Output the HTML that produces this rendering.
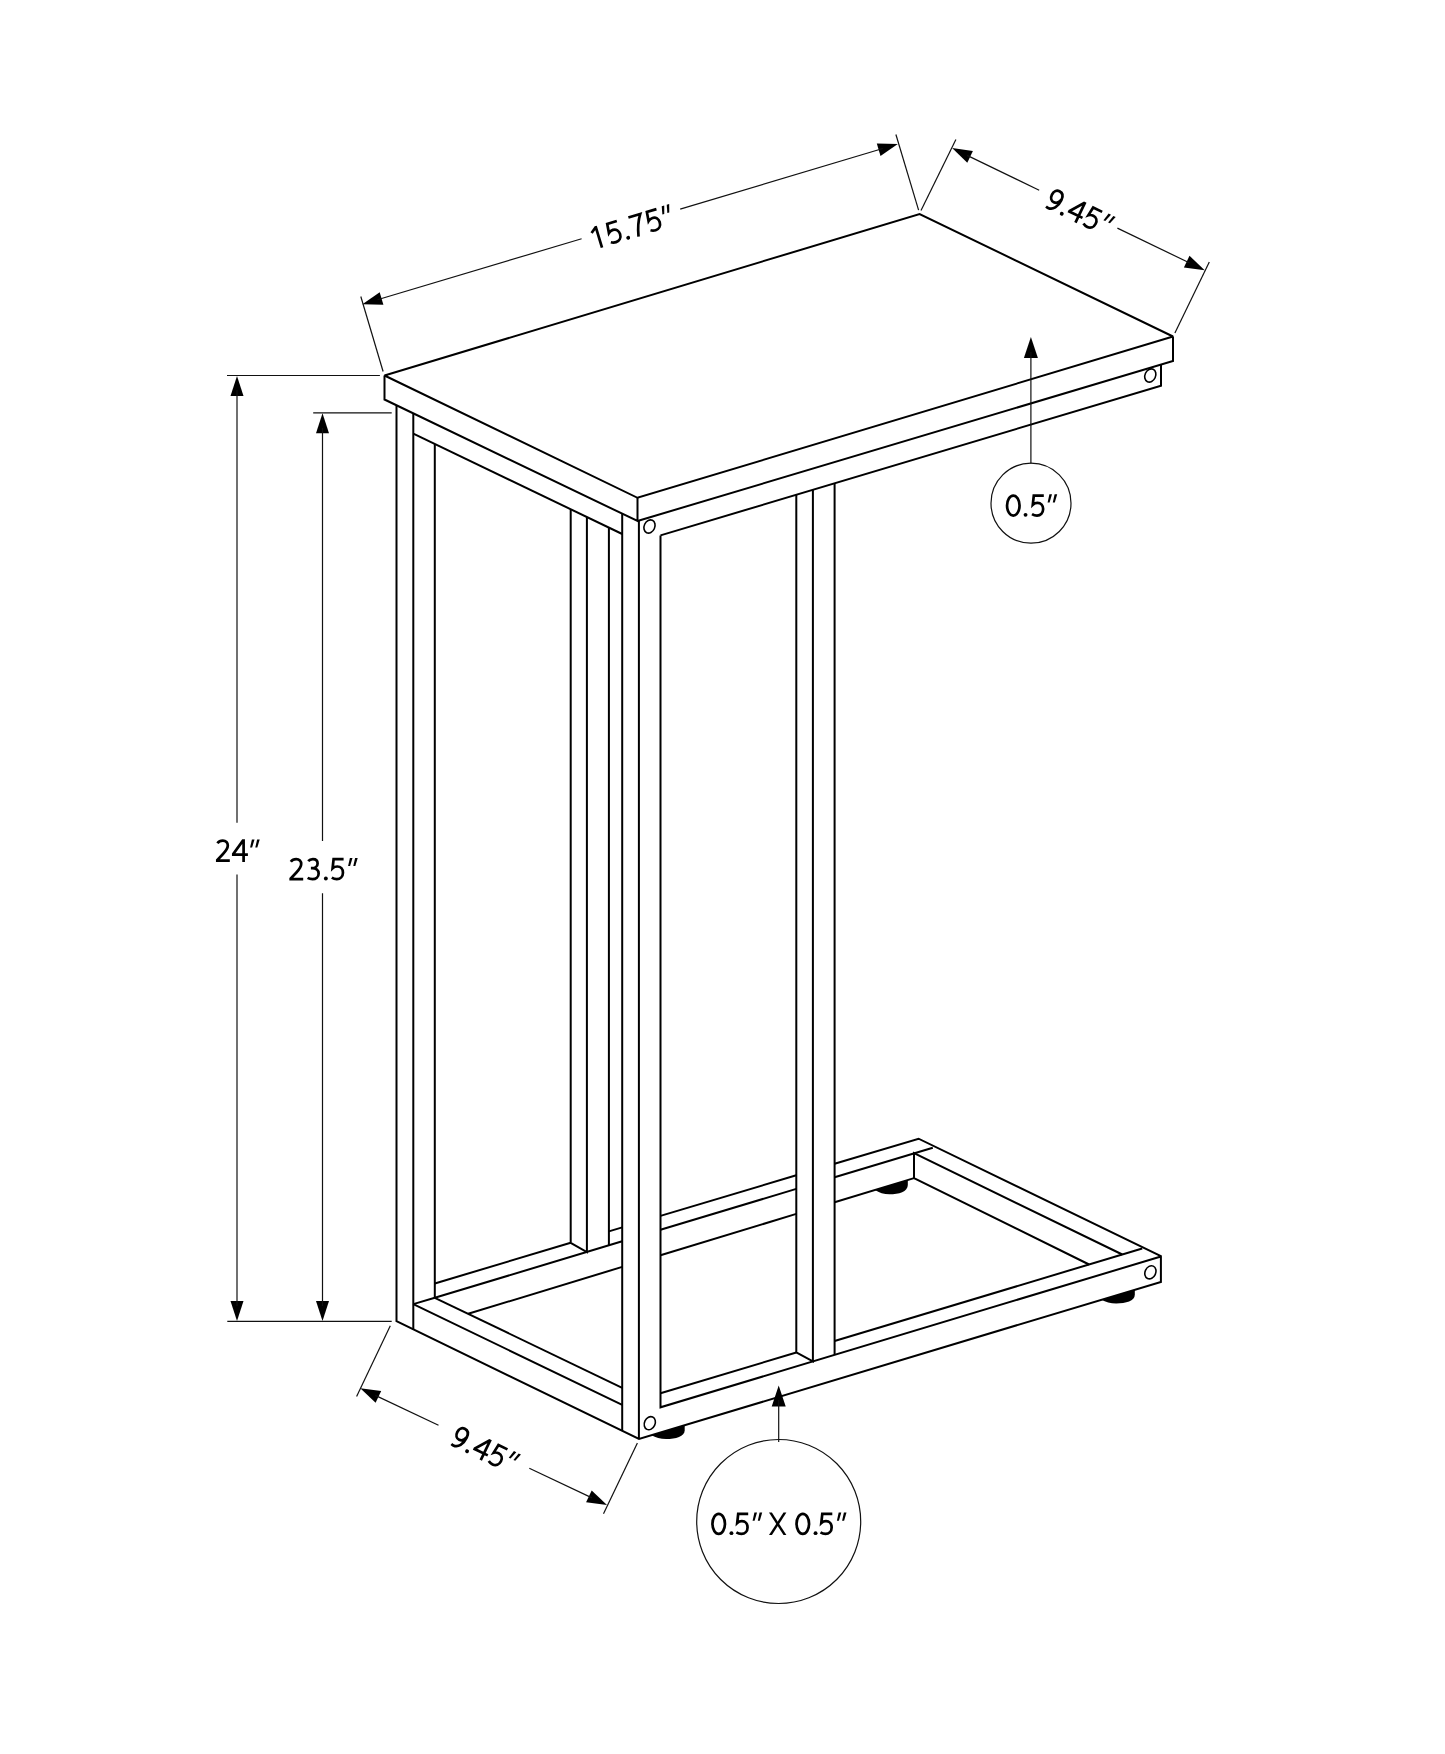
<!DOCTYPE html>
<html><head><meta charset="utf-8"><style>
html,body{margin:0;padding:0;background:#fff;}
svg{display:block;}
.t{stroke:#000;stroke-width:2.0;fill:none;stroke-linejoin:miter;stroke-linecap:butt;stroke-miterlimit:2.2;}
.d{stroke:#111;stroke-width:1.2;fill:none;}
.h{stroke:#000;stroke-width:1.6;fill:none;}
.a{fill:#000;stroke:none;}
.f{fill:#000;stroke:none;}
.gs{fill:none;stroke:#000;stroke-width:2.7;stroke-linecap:butt;stroke-linejoin:miter;stroke-miterlimit:4;}
.gf{fill:#000;stroke:none;}
body{font-family:"Liberation Sans",sans-serif;}
</style></head><body>
<svg width="1445" height="1754" viewBox="0 0 1445 1754">
<rect width="1445" height="1754" fill="#fff"/>
<polygon class="t" points="384.5,375.5 919.6,214.0 1173.0,336.5 637.5,497.8" stroke-miterlimit="4"/>
<polyline class="t" points="384.5,375.5 384.5,399.5 637.5,521.0 637.5,497.8"/>
<polyline class="t" points="637.5,521.0 1173.0,361.0 1173.0,336.5"/>
<line class="t" x1="413.3" y1="433.6" x2="622.2" y2="534.0"/>
<polyline class="t" points="660.5,535.4 1161.0,385.7 1161.0,364.6"/>
<polyline class="t" points="396.5,405.3 396.5,1321.2 639.0,1439.0 1160.9,1281.9 1160.9,1256.1 918.6,1138.7 834.6,1163.8"/>
<line class="t" x1="413.3" y1="413.3" x2="413.3" y2="1329.4"/>
<line class="t" x1="434.8" y1="443.9" x2="434.8" y2="1297.8"/>
<polyline class="t" points="570.7,509.2 570.7,1242.8 586.9,1252.0 586.9,517.0"/>
<line class="t" x1="608.9" y1="527.6" x2="608.9" y2="1245.3"/>
<line class="t" x1="622.2" y1="513.7" x2="622.2" y2="1430.8"/>
<line class="t" x1="638.9" y1="521.0" x2="638.9" y2="1439.0"/>
<polyline class="t" points="660.5,535.4 660.5,1407.3 1160.9,1256.5"/>
<polyline class="t" points="796.3,494.8 796.3,1352.5 812.9,1361.4 812.9,489.8"/>
<line class="t" x1="834.6" y1="483.3" x2="834.6" y2="1354.8"/>
<polyline class="t" points="622.2,1404.9 413.3,1304.1 434.8,1297.8 622.2,1241.3" stroke-miterlimit="2"/>
<line class="t" x1="434.8" y1="1297.8" x2="622.2" y2="1387.9"/>
<line class="t" x1="434.8" y1="1283.5" x2="570.7" y2="1242.8"/>
<line class="t" x1="608.9" y1="1231.4" x2="622.2" y2="1227.4"/>
<line class="t" x1="660.5" y1="1215.9" x2="796.3" y2="1175.3"/>
<line class="t" x1="660.5" y1="1229.8" x2="796.3" y2="1188.9"/>
<line class="t" x1="834.6" y1="1177.3" x2="932.8" y2="1147.7"/>
<line class="t" x1="468.2" y1="1313.8" x2="622.2" y2="1266.9"/>
<line class="t" x1="660.5" y1="1255.3" x2="796.3" y2="1213.9"/>
<line class="t" x1="834.6" y1="1202.3" x2="914.0" y2="1178.1"/>
<polyline class="t" points="1122.3,1254.5 914.0,1153.2 914.0,1178.1 1089.1,1264.5" stroke-miterlimit="2"/>
<line class="t" x1="660.5" y1="1393.3" x2="796.3" y2="1352.5"/>
<line class="t" x1="834.6" y1="1341.0" x2="1142.2" y2="1248.5"/>
<ellipse class="h" cx="649.5" cy="526.5" rx="5.3" ry="6.8" transform="rotate(25 649.5 526.5)"/>
<ellipse class="h" cx="1150.3" cy="375.5" rx="5.3" ry="6.8" transform="rotate(25 1150.3 375.5)"/>
<ellipse class="h" cx="649.8" cy="1423.2" rx="5.3" ry="6.8" transform="rotate(25 649.8 1423.2)"/>
<ellipse class="h" cx="1150.4" cy="1272.3" rx="5.3" ry="6.8" transform="rotate(25 1150.4 1272.3)"/>
<path class="f" d="M875.0,1190.0 L907.8,1180.0 L907.8,1185.0 C907.8,1191.8 898.8,1194.3 889.4,1194.3 C884.0,1194.3 879.0,1192.8 875.0,1190.0 Z"/>
<path class="f" d="M1101.5,1299.8 L1134.8,1289.8 L1134.8,1294.8 C1134.8,1301.0 1125.8,1303.5 1116.2,1303.5 C1110.5,1303.5 1105.5,1302.0 1101.5,1299.8 Z"/>
<path class="f" d="M651.5,1435.2 L684.7,1425.2 L684.7,1430.2 C684.7,1436.5 675.7,1439.0 666.1,1439.0 C660.5,1439.0 655.5,1437.5 651.5,1435.2 Z"/>
<line class="d" x1="360.8" y1="296.5" x2="383.1" y2="371.5"/>
<line class="d" x1="895.9" y1="134.5" x2="918.6" y2="210.1"/>
<polygon class="a" points="362.4,304.3 379.7,292.3 383.4,304.8"/>
<polygon class="a" points="897.8,144.0 880.5,156.0 876.8,143.5"/>
<line class="d" x1="377.4" y1="299.8" x2="581.6" y2="238.7"/>
<line class="d" x1="680.2" y1="209.1" x2="882.8" y2="148.5"/>
<line class="d" x1="955.9" y1="139.4" x2="921.0" y2="210.6"/>
<line class="d" x1="1209.3" y1="262.1" x2="1174.9" y2="332.9"/>
<polygon class="a" points="952.1,148.1 972.9,151.0 967.3,162.7"/>
<polygon class="a" points="1204.7,270.3 1183.9,267.4 1189.5,255.7"/>
<line class="d" x1="967.1" y1="155.4" x2="1039.2" y2="190.2"/>
<line class="d" x1="1117.4" y1="228.1" x2="1189.7" y2="263.0"/>
<line class="d" x1="227.0" y1="375.5" x2="379.9" y2="375.5"/>
<line class="d" x1="313.2" y1="412.9" x2="391.7" y2="412.9"/>
<line class="d" x1="227.3" y1="1321.3" x2="391.7" y2="1321.3"/>
<polygon class="a" points="237.0,375.9 243.5,395.9 230.5,395.9"/>
<polygon class="a" points="237.0,1320.9 230.5,1300.9 243.5,1300.9"/>
<line class="d" x1="237.0" y1="390.0" x2="237.0" y2="822.7"/>
<line class="d" x1="237.0" y1="874.4" x2="237.0" y2="1306.0"/>
<polygon class="a" points="322.5,413.3 329.0,433.3 316.0,433.3"/>
<polygon class="a" points="322.5,1320.9 316.0,1300.9 329.0,1300.9"/>
<line class="d" x1="322.5" y1="428.0" x2="322.5" y2="841.1"/>
<line class="d" x1="322.5" y1="893.2" x2="322.5" y2="1306.0"/>
<line class="d" x1="390.3" y1="1325.7" x2="356.6" y2="1396.4"/>
<line class="d" x1="637.4" y1="1443.1" x2="603.5" y2="1513.8"/>
<polygon class="a" points="360.3,1388.3 381.2,1391.0 375.6,1402.7"/>
<polygon class="a" points="607.0,1505.0 586.1,1502.3 591.7,1490.6"/>
<line class="d" x1="375.3" y1="1395.4" x2="438.5" y2="1425.3"/>
<line class="d" x1="529.3" y1="1468.2" x2="592.0" y2="1497.9"/>
<polygon class="a" points="1030.9,337.1 1037.9,358.1 1023.9,358.1"/>
<line class="d" x1="1030.9" y1="352.0" x2="1030.9" y2="463.4"/>
<circle class="d" cx="1031.0" cy="503.2" r="40"/>
<polygon class="a" points="778.7,1385.5 785.7,1406.5 771.7,1406.5"/>
<line class="d" x1="778.7" y1="1400.0" x2="778.7" y2="1442.0"/>
<circle class="d" cx="778.7" cy="1521.5" r="82"/>
<g class="txt" role="img" aria-label="24″"><title>24″</title><g transform="translate(215.70,839.40)"><path class="gs" d="M1.7,3.9 C3.0,2.1 4.9,1.25 7.1,1.25 C10.2,1.25 12.1,3.3 12.1,6.2 C12.1,9.3 10.2,11.6 7.3,14.6 L1.6,20.6 L1.6,21.25 L14.1,21.25"/></g><g transform="translate(232.10,839.40)"><path class="gs" d="M11.5,22.5 L11.5,1.25 L10.8,1.25 L1.2,14.6 L1.2,15.2 L15.8,15.2"/></g><g transform="translate(250.10,839.40)"><polygon class="gf" points="1.8,0 4.4,0 2.0,8.2 0,8.2"/><polygon class="gf" points="7.0,0 9.6,0 7.2,8.2 5.2,8.2"/></g></g>
<g class="txt" role="img" aria-label="23.5″"><title>23.5″</title><g transform="translate(289.10,857.90)"><path class="gs" d="M1.7,3.9 C3.0,2.1 4.9,1.25 7.1,1.25 C10.2,1.25 12.1,3.3 12.1,6.2 C12.1,9.3 10.2,11.6 7.3,14.6 L1.6,20.6 L1.6,21.25 L14.1,21.25"/></g><g transform="translate(306.70,857.90)"><path class="gs" d="M1.5,3.3 C2.7,1.9 4.4,1.25 6.2,1.25 C9.1,1.25 10.9,3.0 10.9,5.5 C10.9,8.4 8.6,10.2 5.4,10.2 L4.2,10.2 L5.4,10.2 C9.3,10.2 11.95,12.4 11.95,15.6 C11.95,19.1 9.1,21.25 5.8,21.25 C3.8,21.25 2.1,20.7 0.9,20.0"/></g><g transform="translate(323.80,857.90)"><circle cx="2.05" cy="20.55" r="1.95" class="gf"/></g><g transform="translate(331.00,857.90)"><path class="gs" d="M12.6,1.25 L2.6,1.25 L1.6,10.4 C2.9,9.2 4.6,8.6 6.3,8.6 C9.7,8.6 11.95,11.2 11.95,14.8 C11.95,18.6 9.3,21.25 5.8,21.25 C3.9,21.25 2.1,20.6 0.8,19.8"/></g><g transform="translate(348.10,857.90)"><polygon class="gf" points="1.8,0 4.4,0 2.0,8.2 0,8.2"/><polygon class="gf" points="7.0,0 9.6,0 7.2,8.2 5.2,8.2"/></g></g>
<g class="txt" role="img" aria-label="0.5″"><title>0.5″</title><g transform="translate(1005.80,494.30)"><ellipse cx="7.5" cy="11.25" rx="6.25" ry="10.0" class="gs"/></g><g transform="translate(1023.50,494.30)"><circle cx="2.05" cy="20.55" r="1.95" class="gf"/></g><g transform="translate(1031.20,494.30)"><path class="gs" d="M12.6,1.25 L2.6,1.25 L1.6,10.4 C2.9,9.2 4.6,8.6 6.3,8.6 C9.7,8.6 11.95,11.2 11.95,14.8 C11.95,18.6 9.3,21.25 5.8,21.25 C3.9,21.25 2.1,20.6 0.8,19.8"/></g><g transform="translate(1047.60,494.30)"><polygon class="gf" points="1.8,0 4.4,0 2.0,8.2 0,8.2"/><polygon class="gf" points="7.0,0 9.6,0 7.2,8.2 5.2,8.2"/></g></g>
<g class="txt" role="img" aria-label="0.5″ X 0.5″"><title>0.5″ X 0.5″</title><g transform="translate(711.20,1512.60)"><ellipse cx="7.5" cy="11.25" rx="6.25" ry="10.0" class="gs"/></g><g transform="translate(729.40,1512.60)"><circle cx="2.05" cy="20.55" r="1.95" class="gf"/></g><g transform="translate(735.60,1512.60)"><path class="gs" d="M12.6,1.25 L2.6,1.25 L1.6,10.4 C2.9,9.2 4.6,8.6 6.3,8.6 C9.7,8.6 11.95,11.2 11.95,14.8 C11.95,18.6 9.3,21.25 5.8,21.25 C3.9,21.25 2.1,20.6 0.8,19.8"/></g><g transform="translate(752.60,1512.60)"><polygon class="gf" points="1.8,0 4.4,0 2.0,8.2 0,8.2"/><polygon class="gf" points="7.0,0 9.6,0 7.2,8.2 5.2,8.2"/></g><g transform="translate(768.90,1512.60)"><polygon class="gf" points="0.1,0 3.0,0 17.5,22.5 14.6,22.5"/><polygon class="gf" points="14.6,0 17.5,0 3.0,22.5 0.1,22.5"/></g><g transform="translate(795.30,1512.60)"><ellipse cx="7.5" cy="11.25" rx="6.25" ry="10.0" class="gs"/></g><g transform="translate(813.50,1512.60)"><circle cx="2.05" cy="20.55" r="1.95" class="gf"/></g><g transform="translate(819.70,1512.60)"><path class="gs" d="M12.6,1.25 L2.6,1.25 L1.6,10.4 C2.9,9.2 4.6,8.6 6.3,8.6 C9.7,8.6 11.95,11.2 11.95,14.8 C11.95,18.6 9.3,21.25 5.8,21.25 C3.9,21.25 2.1,20.6 0.8,19.8"/></g><g transform="translate(836.90,1512.60)"><polygon class="gf" points="1.8,0 4.4,0 2.0,8.2 0,8.2"/><polygon class="gf" points="7.0,0 9.6,0 7.2,8.2 5.2,8.2"/></g></g>
<g class="txt" role="img" aria-label="15.75″" transform="translate(599.00,248.60) rotate(-16.78)"><title>15.75″</title><g transform="translate(-3.20,-22.50)"><path class="gs" d="M0.6,5.4 L6.0,1.25 L6.35,1.25 M6.35,0 L6.35,22.5"/></g><g transform="translate(12.40,-22.50)"><path class="gs" d="M12.6,1.25 L2.6,1.25 L1.6,10.4 C2.9,9.2 4.6,8.6 6.3,8.6 C9.7,8.6 11.95,11.2 11.95,14.8 C11.95,18.6 9.3,21.25 5.8,21.25 C3.9,21.25 2.1,20.6 0.8,19.8"/></g><g transform="translate(29.00,-22.50)"><circle cx="2.05" cy="20.55" r="1.95" class="gf"/></g><g transform="translate(36.90,-22.50)"><path class="gs" d="M0.2,1.25 L12.6,1.25 C9.4,6.0 6.2,13.2 4.4,22.5"/></g><g transform="translate(53.80,-22.50)"><path class="gs" d="M12.6,1.25 L2.6,1.25 L1.6,10.4 C2.9,9.2 4.6,8.6 6.3,8.6 C9.7,8.6 11.95,11.2 11.95,14.8 C11.95,18.6 9.3,21.25 5.8,21.25 C3.9,21.25 2.1,20.6 0.8,19.8"/></g><g transform="translate(70.50,-22.50)"><polygon class="gf" points="1.8,0 4.4,0 2.0,8.2 0,8.2"/><polygon class="gf" points="7.0,0 9.6,0 7.2,8.2 5.2,8.2"/></g></g>
<g class="txt" role="img" aria-label="9.45″" transform="translate(1044.30,207.50) rotate(25.8)"><title>9.45″</title><g transform="translate(0.00,-22.50)"><path class="gs" d="M11.9,8.2 C11.0,11.9 9.0,13.6 6.3,13.6 C3.3,13.6 1.25,11.2 1.25,7.5 C1.25,3.8 3.5,1.25 6.6,1.25 C10.0,1.25 12.15,3.9 12.15,8.4 C12.15,15.8 8.8,21.25 3.6,21.25 C2.7,21.25 1.9,21.1 1.2,20.9"/></g><g transform="translate(16.40,-22.50)"><circle cx="2.05" cy="20.55" r="1.95" class="gf"/></g><g transform="translate(23.10,-22.50)"><path class="gs" d="M11.5,22.5 L11.5,1.25 L10.8,1.25 L1.2,14.6 L1.2,15.2 L15.8,15.2"/></g><g transform="translate(41.40,-22.50)"><path class="gs" d="M12.6,1.25 L2.6,1.25 L1.6,10.4 C2.9,9.2 4.6,8.6 6.3,8.6 C9.7,8.6 11.95,11.2 11.95,14.8 C11.95,18.6 9.3,21.25 5.8,21.25 C3.9,21.25 2.1,20.6 0.8,19.8"/></g><g transform="translate(58.80,-22.50)"><polygon class="gf" points="1.8,0 4.4,0 2.0,8.2 0,8.2"/><polygon class="gf" points="7.0,0 9.6,0 7.2,8.2 5.2,8.2"/></g></g>
<g class="txt" role="img" aria-label="9.45″" transform="translate(449.60,1445.00) rotate(25.8)"><title>9.45″</title><g transform="translate(0.00,-22.50)"><path class="gs" d="M11.9,8.2 C11.0,11.9 9.0,13.6 6.3,13.6 C3.3,13.6 1.25,11.2 1.25,7.5 C1.25,3.8 3.5,1.25 6.6,1.25 C10.0,1.25 12.15,3.9 12.15,8.4 C12.15,15.8 8.8,21.25 3.6,21.25 C2.7,21.25 1.9,21.1 1.2,20.9"/></g><g transform="translate(16.40,-22.50)"><circle cx="2.05" cy="20.55" r="1.95" class="gf"/></g><g transform="translate(23.10,-22.50)"><path class="gs" d="M11.5,22.5 L11.5,1.25 L10.8,1.25 L1.2,14.6 L1.2,15.2 L15.8,15.2"/></g><g transform="translate(41.40,-22.50)"><path class="gs" d="M12.6,1.25 L2.6,1.25 L1.6,10.4 C2.9,9.2 4.6,8.6 6.3,8.6 C9.7,8.6 11.95,11.2 11.95,14.8 C11.95,18.6 9.3,21.25 5.8,21.25 C3.9,21.25 2.1,20.6 0.8,19.8"/></g><g transform="translate(58.80,-22.50)"><polygon class="gf" points="1.8,0 4.4,0 2.0,8.2 0,8.2"/><polygon class="gf" points="7.0,0 9.6,0 7.2,8.2 5.2,8.2"/></g></g>
</svg>
</body></html>
